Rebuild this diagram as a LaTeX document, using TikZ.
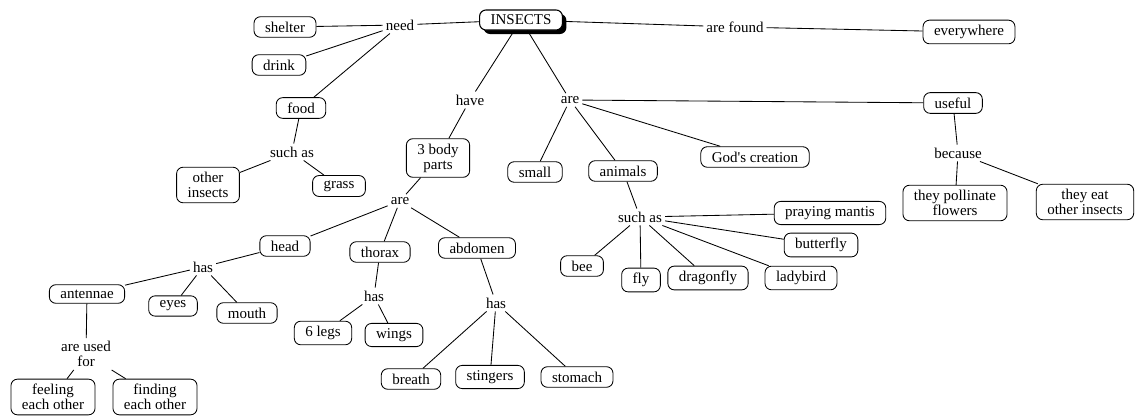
\documentclass[tikz,border=0pt]{standalone}
\usepackage{fontspec}
\setmainfont{Liberation Serif}[Ligatures=TeXOff]
\usetikzlibrary{shadows}
\begin{document}
\begin{tikzpicture}[x=1pt,y=-1pt,
  cbox/.style={draw, rounded corners=6.5pt, line width=0.85pt, fill=white, inner xsep=11pt, inner ysep=5pt, align=center, font=\fontsize{15}{15}\selectfont},
  lnk/.style={inner sep=3pt, align=center, font=\fontsize{15}{15}\selectfont},
  con/.style={line width=0.85pt}]
\useasboundingbox (0,0) rectangle (1137,419);
% concepts
\node[cbox, line width=1.1pt, drop shadow={fill=black, opacity=1, shadow xshift=4pt, shadow yshift=-4pt}] (insects) at (521,20) {INSECTS};
\node[cbox] (shelter) at (285,27) {shelter};
\node[cbox] (drink) at (279,65) {drink};
\node[cbox] (food) at (301,108) {food};
\node[cbox] (otherins) at (208,185) {other\\insects};
\node[cbox] (grass) at (339,186) {grass};
\node[cbox] (body) at (438,158) {3 body\\parts};
\node[cbox] (head) at (285,246) {head};
\node[cbox] (thorax) at (380,252) {thorax};
\node[cbox] (abdomen) at (477,248) {abdomen};
\node[cbox] (antennae) at (87,294) {antennae};
\node[cbox] (eyes) at (173,306) {eyes};
\node[cbox] (mouth) at (247,313) {mouth};
\node[cbox] (feeling) at (53,397) {feeling\\each other};
\node[cbox] (finding) at (155,397) {finding\\each other};
\node[cbox] (legs) at (323,333) {6 legs};
\node[cbox] (wings) at (394,335) {wings};
\node[cbox] (breath) at (411,379) {breath};
\node[cbox] (stingers) at (490,377) {stingers};
\node[cbox] (stomach) at (577,377) {stomach};
\node[cbox] (everywhere) at (969,32) {everywhere};
\node[cbox] (useful) at (953,103) {useful};
\node[cbox] (pollinate) at (955,203) {they pollinate\\flowers};
\node[cbox] (eat) at (1085,202) {they eat\\other insects};
\node[cbox] (small) at (535,172) {small};
\node[cbox] (animals) at (623,171) {animals};
\node[cbox] (god) at (755,157) {God's creation};
\node[cbox] (mantis) at (830,213) {praying mantis};
\node[cbox] (butterfly) at (821,245) {butterfly};
\node[cbox] (bee) at (582,266) {bee};
\node[cbox] (fly) at (641,280) {fly};
\node[cbox] (dragonfly) at (708,278) {dragonfly};
\node[cbox] (ladybird) at (801,278) {ladybird};
% linking phrases
\node[lnk] (need) at (400,25) {need};
\node[lnk] (suchas1) at (292,152) {such as};
\node[lnk] (have) at (470,100) {have};
\node[lnk] (are2) at (400,201) {are};
\node[lnk] (has1) at (203,267) {has};
\node[lnk] (usedfor) at (86,354) {are used\\for};
\node[lnk] (has2) at (374,296) {has};
\node[lnk] (has3) at (496,303) {has};
\node[lnk] (are1) at (570,100) {are};
\node[lnk] (found) at (735,27) {are found};
\node[lnk] (because) at (958,153) {because};
\node[lnk] (suchas2) at (640,217) {such as};
% connectors
\draw[con] (insects) -- (need);
\draw[con] (need) -- (shelter);
\draw[con] (need) -- (drink);
\draw[con] (need) -- (food);
\draw[con] (food) -- (suchas1);
\draw[con] (suchas1) -- (otherins);
\draw[con] (suchas1) -- (grass);
\draw[con] (insects) -- (have);
\draw[con] (have) -- (body);
\draw[con] (body) -- (are2);
\draw[con] (are2) -- (head);
\draw[con] (are2) -- (thorax);
\draw[con] (are2) -- (abdomen);
\draw[con] (head) -- (has1);
\draw[con] (has1) -- (antennae);
\draw[con] (has1) -- (eyes);
\draw[con] (has1) -- (mouth);
\draw[con] (antennae) -- (usedfor);
\draw[con] (usedfor) -- (feeling);
\draw[con] (usedfor) -- (finding);
\draw[con] (thorax) -- (has2);
\draw[con] (has2) -- (legs);
\draw[con] (has2) -- (wings);
\draw[con] (abdomen) -- (has3);
\draw[con] (has3) -- (breath);
\draw[con] (has3) -- (stingers);
\draw[con] (has3) -- (stomach);
\draw[con] (insects) -- (found);
\draw[con] (found) -- (everywhere);
\draw[con] (insects) -- (are1);
\draw[con] (are1) -- (small);
\draw[con] (are1) -- (animals);
\draw[con] (are1) -- (god);
\draw[con] (are1) -- (useful);
\draw[con] (useful) -- (because);
\draw[con] (because) -- (pollinate);
\draw[con] (because) -- (eat);
\draw[con] (animals) -- (suchas2);
\draw[con] (suchas2) -- (mantis);
\draw[con] (suchas2) -- (butterfly);
\draw[con] (suchas2) -- (bee);
\draw[con] (suchas2) -- (fly);
\draw[con] (suchas2) -- (dragonfly);
\draw[con] (suchas2) -- (ladybird);
\end{tikzpicture}
\end{document}
